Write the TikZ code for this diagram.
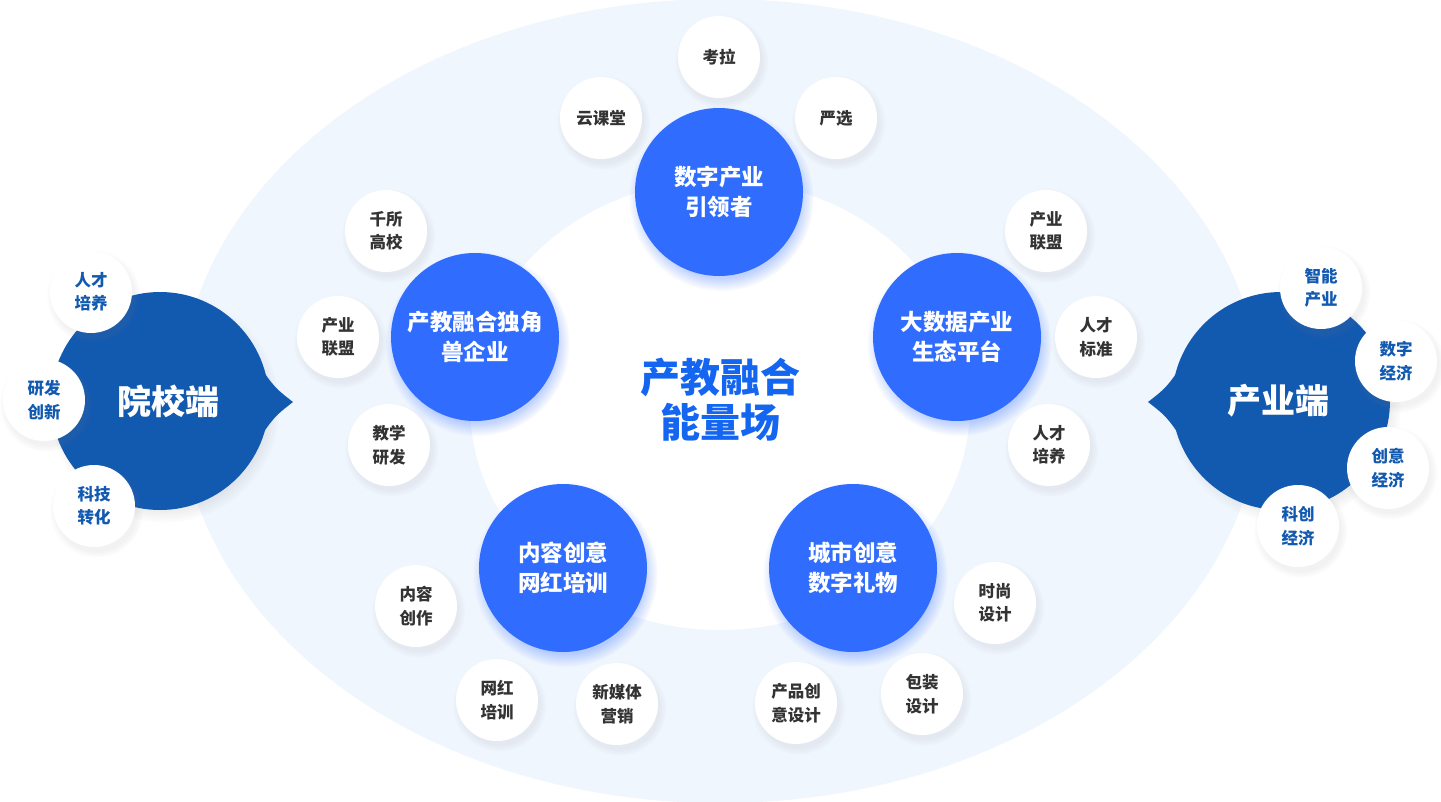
\documentclass[tikz,border=0pt]{standalone}
\usepackage{fontspec}
\setmainfont{Noto Sans CJK SC}
\usetikzlibrary{shadows}

\definecolor{fieldblue}{HTML}{F0F6FE}
\definecolor{hubblue}{HTML}{306CFE}
\definecolor{endblue}{HTML}{1259B0}
\definecolor{leafgray}{HTML}{333333}
\definecolor{coreblue}{HTML}{1466F0}

\tikzset{
  hub/.style={circle,fill=hubblue,text=white,minimum size=168pt,inner sep=0pt,align=center,
    font=\fontsize{22.5}{30}\selectfont\bfseries,
    circular drop shadow={shadow xshift=2pt,shadow yshift=-6pt,shadow scale=1.1,fill=hubblue,opacity=0.3}},
  leaf/.style={circle,fill=white,minimum size=82pt,inner sep=0pt,align=center,text=leafgray,
    font=\fontsize{16.5}{23.5}\selectfont\bfseries,
    circular drop shadow={shadow xshift=2pt,shadow yshift=-4pt,shadow scale=1.15,fill=black!50,opacity=0.1}},
  outleaf/.style={leaf,text=endblue},
  endhub/.style={circle,fill=endblue,minimum size=218pt,inner sep=0pt,
    circular drop shadow={shadow xshift=4pt,shadow yshift=-6pt,shadow scale=1.06,fill=black!60,opacity=0.15}},
  endtext/.style={text=white,font=\fontsize{34}{40}\selectfont\bfseries},
  coretext/.style={text=coreblue,align=center,font=\fontsize{40}{45}\selectfont\bfseries},
}

\begin{document}
\begin{tikzpicture}[x=1pt,y=-1pt]
\useasboundingbox (0,0) rectangle (1441,801);
\fill[white] (0,0) rectangle (1441,801);
\fill[fieldblue] (720,401) ellipse [x radius=540, y radius=402];
\fill[white] (720,405) ellipse [x radius=250, y radius=225];

\node[endhub, label={[endtext,xshift=8pt]center:院校端}] (school) at (160,401) {};
\fill[endblue] (258,364) .. controls (275,388) .. (293,402) .. controls (275,416) .. (258,440) -- cycle;
\node[endhub, label={[endtext,xshift=-3pt]center:产业端}] (industry) at (1281,401) {};
\fill[endblue] (1183,364) .. controls (1166,388) .. (1148,402) .. controls (1166,416) .. (1183,440) -- cycle;

\node[outleaf] (talent) at (91,292) {人才\\培养};
\node[outleaf] (research) at (44,400) {研发\\创新};
\node[outleaf] (transfer) at (94,506) {科技\\转化};
\node[outleaf] (smart) at (1321,288) {智能\\产业};
\node[outleaf] (digieco) at (1396,361) {数字\\经济};
\node[outleaf] (creaeco) at (1388,468) {创意\\经济};
\node[outleaf] (techeco) at (1298,526) {科创\\经济};

\node[hub] (digital) at (719,192) {数字产业\\引领者};
\node[hub] (unicorn) at (475,337) {产教融合独角\\兽企业};
\node[hub] (bigdata) at (957,337) {大数据产业\\生态平台};
\node[hub] (content) at (563,568) {内容创意\\网红培训};
\node[hub] (city) at (853,568) {城市创意\\数字礼物};

\node[leaf] (kaola) at (719,57) {考拉};
\node[leaf] (cloud) at (601,118) {云课堂};
\node[leaf] (select) at (836,118) {严选};

\node[leaf] (colleges) at (386,231) {千所\\高校};
\node[leaf] (allianceL) at (338,337) {产业\\联盟};
\node[leaf] (teaching) at (389,445) {教学\\研发};

\node[leaf] (allianceR) at (1046,231) {产业\\联盟};
\node[leaf] (standard) at (1096,337) {人才\\标准};
\node[leaf] (training) at (1049,445) {人才\\培养};

\node[leaf] (create) at (416,606) {内容\\创作};
\node[leaf] (influencer) at (497,700) {网红\\培训};
\node[leaf] (newmedia) at (617,704) {新媒体\\营销};

\node[leaf] (fashion) at (995,603) {时尚\\设计};
\node[leaf] (package) at (922,694) {包装\\设计};
\node[leaf] (product) at (796,703) {产品创\\意设计};

\node[coretext] (core) at (720,400) {产教融合\\能量场};
\end{tikzpicture}
\end{document}
